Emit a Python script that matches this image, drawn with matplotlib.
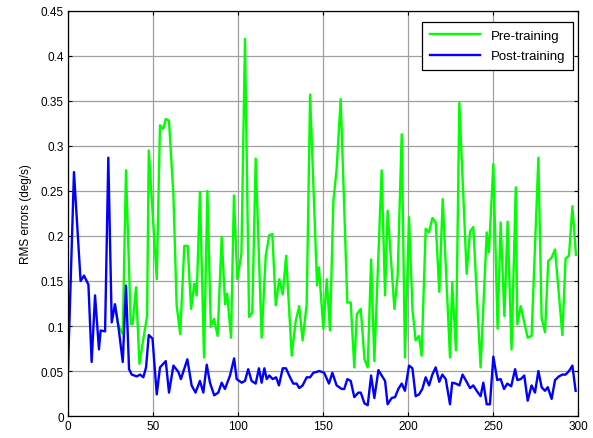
"""plot.py: RMS errors before and after training."""

import matplotlib
matplotlib.use('Agg')
import matplotlib.pyplot as plt

plt.rcParams['font.family'] = ['Liberation Sans', 'DejaVu Sans']

# values (vertex x, vertex y)
pre_x = [27.6, 29.6, 32.2, 34.1, 36.9, 38, 40, 42, 44.6, 46.5, 47.5, 52.2, 54.1, 56, 57.5, 59.4,
         62, 63.9, 66, 68.4, 70.4, 72.4, 74.3, 75.7, 77.6, 80, 82, 84, 85.9, 88, 90.4, 92.4,
         93.6, 95.9, 97.6, 99.6, 102, 104.1, 106.5, 108.4, 110.4, 113.9, 116.3, 118.4, 120.2,
         122.2, 124.3, 126.3, 128.3, 131.6, 133.9, 136, 138, 140.4, 142.4, 146.5, 147.6, 150.2,
         152.2, 154.1, 156.1, 158, 160.4, 164.3, 166.3, 168.4, 169.9, 172.2, 174.4, 176.3,
         178.3, 180.2, 184.5, 186.5, 188, 192, 193.9, 196.3, 198.2, 200.6, 202.6, 204.5, 206.5,
         208, 210.4, 212.4, 214.3, 216.3, 218.4, 220.4, 224.7, 226, 228.2, 230.2, 234.5, 236.5,
         238.4, 242.7, 246.3, 247.6, 250.2, 252.7, 254.5, 256.7, 258.6, 260.9, 263.4, 264.3,
         266.3, 268.4, 270.4, 272.7, 276.7, 278.6, 280.6, 282.5, 284.5, 286.5, 290.8, 292.7,
         294.7, 296.7, 298.8]
pre_y = [0.124, 0.100, 0.091, 0.273, 0.102, 0.102, 0.143, 0.058, 0.089, 0.111, 0.295, 0.152,
         0.323, 0.319, 0.330, 0.328, 0.245, 0.123, 0.091, 0.189, 0.189, 0.119, 0.147, 0.134,
         0.249, 0.065, 0.250, 0.099, 0.108, 0.089, 0.199, 0.124, 0.136, 0.087, 0.245, 0.152,
         0.180, 0.419, 0.110, 0.115, 0.286, 0.087, 0.178, 0.201, 0.202, 0.123, 0.152, 0.135,
         0.178, 0.067, 0.105, 0.122, 0.084, 0.124, 0.357, 0.145, 0.165, 0.097, 0.152, 0.095,
         0.239, 0.274, 0.352, 0.126, 0.126, 0.054, 0.113, 0.119, 0.063, 0.054, 0.174, 0.061,
         0.273, 0.134, 0.228, 0.119, 0.156, 0.313, 0.065, 0.221, 0.119, 0.084, 0.089, 0.067,
         0.208, 0.204, 0.220, 0.215, 0.138, 0.241, 0.065, 0.148, 0.073, 0.348, 0.158, 0.205,
         0.210, 0.054, 0.204, 0.182, 0.280, 0.097, 0.215, 0.111, 0.216, 0.074, 0.254, 0.102,
         0.122, 0.104, 0.087, 0.089, 0.287, 0.109, 0.093, 0.172, 0.176, 0.185, 0.090, 0.175,
         0.178, 0.233, 0.179]

post_x = [0, 3.5, 7.4, 9.4, 12, 13.9, 15.9, 18.2, 19.2, 21.8, 23.7, 25.7, 27.6, 29.6, 32.2,
          34.1, 35.9, 37.5, 40.4, 42.4, 44.3, 45.9, 47.5, 49.7, 52.2, 54.1, 57.5, 59.4, 62,
          64.9, 66.4, 70.2, 72.7, 75, 77.6, 79.6, 81.6, 83.5, 86, 88.4, 90.4, 92.3, 95.3, 97.7,
          99.2, 102.2, 104.1, 106, 108, 110.4, 112.3, 113.9, 115.5, 116.9, 118.4, 120.4, 122.4,
          124.1, 126.3, 128.2, 130.6, 132.5, 134.5, 136, 138, 140.4, 142.4, 144.3, 146.3, 147.8,
          150.7, 153.5, 155.5, 158, 161, 162.5, 164.3, 166.3, 168.4, 170.8, 172.2, 174.4, 176.3,
          178.3, 180.2, 182.6, 184.5, 186.5, 188, 190.4, 192.4, 194.3, 196.3, 198.2, 200.6,
          202.6, 204.5, 206.5, 208.4, 210.4, 212.4, 214.3, 216.3, 218.4, 220.2, 222.2, 224.7,
          226, 228.2, 230.2, 232.1, 234.5, 236.5, 238.4, 240.4, 242.7, 244.3, 246.3, 248.2,
          250.2, 252.5, 254.5, 256.5, 258.4, 260.7, 263, 264.3, 266.3, 268.4, 270.4, 272.7,
          274.7, 276.7, 278.6, 280.6, 282.2, 284.5, 286.5, 288.8, 290.8, 292.7, 294.7, 296.7,
          298.6]
post_y = [0.052, 0.271, 0.150, 0.156, 0.146, 0.060, 0.134, 0.074, 0.095, 0.094, 0.287, 0.104,
          0.124, 0.100, 0.060, 0.145, 0.052, 0.046, 0.044, 0.046, 0.043, 0.054, 0.090, 0.086,
          0.024, 0.054, 0.061, 0.026, 0.056, 0.049, 0.041, 0.063, 0.034, 0.026, 0.039, 0.026,
          0.057, 0.037, 0.023, 0.026, 0.037, 0.030, 0.045, 0.064, 0.041, 0.037, 0.039, 0.052,
          0.039, 0.036, 0.053, 0.037, 0.053, 0.041, 0.045, 0.041, 0.043, 0.034, 0.053, 0.053,
          0.043, 0.036, 0.036, 0.031, 0.034, 0.043, 0.043, 0.048, 0.049, 0.050, 0.048, 0.036,
          0.048, 0.034, 0.030, 0.030, 0.041, 0.039, 0.021, 0.026, 0.026, 0.014, 0.012, 0.045,
          0.020, 0.051, 0.045, 0.039, 0.013, 0.020, 0.021, 0.030, 0.036, 0.028, 0.056, 0.053,
          0.022, 0.024, 0.030, 0.043, 0.034, 0.046, 0.054, 0.038, 0.046, 0.041, 0.013, 0.037,
          0.036, 0.034, 0.046, 0.038, 0.031, 0.034, 0.028, 0.022, 0.037, 0.013, 0.013, 0.066,
          0.040, 0.041, 0.030, 0.036, 0.033, 0.052, 0.040, 0.041, 0.045, 0.017, 0.034, 0.026,
          0.050, 0.032, 0.028, 0.032, 0.019, 0.040, 0.044, 0.046, 0.046, 0.050, 0.056, 0.028]

x_ticks = [0, 50, 100, 150, 200, 250, 300]
y_ticks = [0, 0.05, 0.1, 0.15, 0.2, 0.25, 0.3, 0.35, 0.4, 0.45]
y_tick_labels = ['0', '0.05', '0.1', '0.15', '0.2', '0.25', '0.3', '0.35', '0.4', '0.45']

fig = plt.figure(figsize=(5.93, 4.39), dpi=100)
ax = fig.add_axes([0.1147, 0.0501, 0.86, 0.9226])

ax.plot(pre_x, pre_y, color='#00ff00', lw=1.7, label='Pre-training')
ax.plot(post_x, post_y, color='#0000ff', lw=1.7, label='Post-training')

ax.set_xlim(0, 300)
ax.set_ylim(0, 0.45)
ax.set_xticks(x_ticks)
ax.set_yticks(y_ticks)
ax.set_yticklabels(y_tick_labels)
ax.tick_params(direction='in', top=True, right=True, labelsize=8.5, length=3, pad=3)
ax.grid(True, color='#a0a0a0', lw=0.9, ls='-')
ax.set_axisbelow(True)
for s in ax.spines.values():
    s.set_linewidth(0.9)

ax.set_ylabel('RMS errors (deg/s)', fontsize=8.5, labelpad=6)

leg = ax.legend(loc='upper right', fontsize=9.5, fancybox=False, framealpha=1,
                edgecolor='black', handlelength=3.8, borderpad=0.6, labelspacing=0.6,
                borderaxespad=0, bbox_to_anchor=(0.99, 0.973))
leg.get_frame().set_linewidth(0.9)

plt.savefig('out.png', dpi=100)
